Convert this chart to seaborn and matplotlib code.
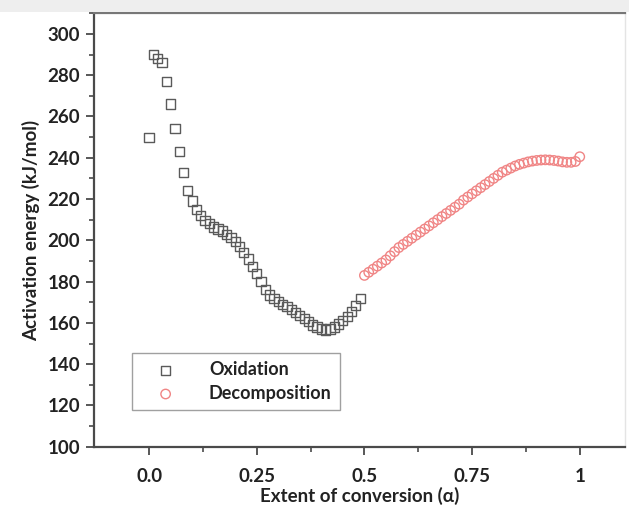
import numpy as np
import pandas as pd
import matplotlib
matplotlib.use("Agg")
import matplotlib.pyplot as plt
from matplotlib.ticker import MultipleLocator, FixedLocator
from matplotlib.patches import Rectangle
import seaborn as sns

# ── Data ──────────────────────────────────────────────────────────────────────
alpha_ox = [0.00, 0.01, 0.02, 0.03, 0.04, 0.05, 0.06, 0.07, 0.08, 0.09,
            0.10, 0.11, 0.12, 0.13, 0.14, 0.15, 0.16, 0.17, 0.18, 0.19,
            0.20, 0.21, 0.22, 0.23, 0.24, 0.25, 0.26, 0.27, 0.28, 0.29,
            0.30, 0.31, 0.32, 0.33, 0.34, 0.35, 0.36, 0.37, 0.38, 0.39,
            0.40, 0.41, 0.42, 0.43, 0.44, 0.45, 0.46, 0.47, 0.48, 0.49]
ea_ox = [250, 290, 288, 286, 277, 266, 254, 243, 233, 224,
         219, 215, 212, 209.5, 208, 206.5, 205.5, 204.5, 203, 201.5,
         199.5, 197, 194, 191, 187.5, 184, 180, 176, 173.5, 172,
         170.5, 169, 168, 166.5, 165, 163.5, 162, 160.5, 159, 158,
         157, 156.5, 157, 158, 159.5, 161, 163, 165.5, 168.5, 172]

alpha_dec = [0.50, 0.51, 0.52, 0.53, 0.54, 0.55, 0.56, 0.57, 0.58, 0.59,
             0.60, 0.61, 0.62, 0.63, 0.64, 0.65, 0.66, 0.67, 0.68, 0.69,
             0.70, 0.71, 0.72, 0.73, 0.74, 0.75, 0.76, 0.77, 0.78, 0.79,
             0.80, 0.81, 0.82, 0.83, 0.84, 0.85, 0.86, 0.87, 0.88, 0.89,
             0.90, 0.91, 0.92, 0.93, 0.94, 0.95, 0.96, 0.97, 0.98, 0.99, 1.00]
ea_dec = [183, 184.5, 186, 187.5, 189, 190.5, 192.5, 194.5, 196.5, 198,
          199.5, 201, 202.5, 204, 205.5, 207, 208.5, 210, 211.5, 213,
          214.5, 216, 217.5, 219.5, 221, 222.5, 224, 225.5, 227, 228.5,
          230, 231.5, 233, 234, 235, 236, 236.8, 237.4, 238, 238.4,
          238.7, 238.9, 239, 238.9, 238.7, 238.4, 238, 237.8, 237.8, 238.2, 240.5]

x_ticks = [0.0, 0.25, 0.5, 0.75, 1.0]
x_ticklabels = ["0.0", "0.25", "0.5", "0.75", "1"]

# ── Style ─────────────────────────────────────────────────────────────────────
OX_COLOR = "#5a5a5a"
DEC_COLOR = "#f08585"
AXIS_COLOR = "#4a4a4a"
TEXT_COLOR = "#222222"

sns.set_style("ticks")
plt.rcParams["font.family"] = ["Lato", "DejaVu Sans"]
plt.rcParams["font.weight"] = "bold"

fig = plt.figure(figsize=(6.29, 5.15), dpi=100)
fig.patch.set_facecolor("white")
# light grey band at the top of the scanned figure
fig.patches.append(Rectangle((0, 0.977), 1, 0.023, transform=fig.transFigure,
                             facecolor="#eeeeee", edgecolor="none", zorder=0))
ax = fig.add_axes([0.1494, 0.1326, 0.8442, 0.8416])

sns.scatterplot(x=alpha_ox, y=ea_ox, ax=ax, marker="s", s=44,
                facecolors="none", edgecolor=OX_COLOR, linewidth=1.0,
                label="Oxidation")
sns.scatterplot(x=alpha_dec, y=ea_dec, ax=ax, marker="o", s=46,
                facecolors="none", edgecolor=DEC_COLOR, linewidth=1.0,
                label="Decomposition")

ax.set_xlim(-0.128, 1.105)
ax.set_ylim(100, 310)
ax.xaxis.set_major_locator(FixedLocator(x_ticks))
ax.set_xticklabels(x_ticklabels)
ax.xaxis.set_minor_locator(FixedLocator([0.125, 0.375, 0.625, 0.875]))
ax.set_yticks(np.arange(100, 301, 20))
ax.yaxis.set_minor_locator(MultipleLocator(10))

ax.tick_params(axis="both", which="major", direction="out", length=6, width=1.3,
               color=AXIS_COLOR, labelsize=13.5, labelcolor=TEXT_COLOR, pad=4)
ax.tick_params(axis="both", which="minor", direction="out", length=3.5, width=1.2,
               color=AXIS_COLOR)
ax.tick_params(axis="x", which="major", pad=9)
for lab in ax.get_xticklabels() + ax.get_yticklabels():
    lab.set_fontweight("bold")

for side in ["left", "bottom", "top"]:
    ax.spines[side].set_color(AXIS_COLOR)
    ax.spines[side].set_linewidth(1.6)
ax.spines["top"].set_color("#777777")
ax.spines["right"].set_color("#e4e4e4")
ax.spines["right"].set_linewidth(1.0)

ax.set_xlabel("Extent of conversion (\u03b1)", fontsize=13.5, fontweight="bold",
              color=TEXT_COLOR, labelpad=2)
ax.set_ylabel("Activation energy (kJ/mol)", fontsize=13.5, fontweight="bold",
              color=TEXT_COLOR, labelpad=5)

leg = ax.legend(loc="lower left", bbox_to_anchor=(0.072, 0.085), borderaxespad=0,
                frameon=True, fancybox=False, fontsize=13, handletextpad=1.0,
                borderpad=0.45, labelspacing=0.35, handlelength=2.8)
leg.get_frame().set_edgecolor("#888888")
leg.get_frame().set_linewidth(1.0)
for t in leg.get_texts():
    t.set_fontweight("bold")
    t.set_color(TEXT_COLOR)

fig.savefig("out.png", dpi=100, facecolor=fig.get_facecolor())
